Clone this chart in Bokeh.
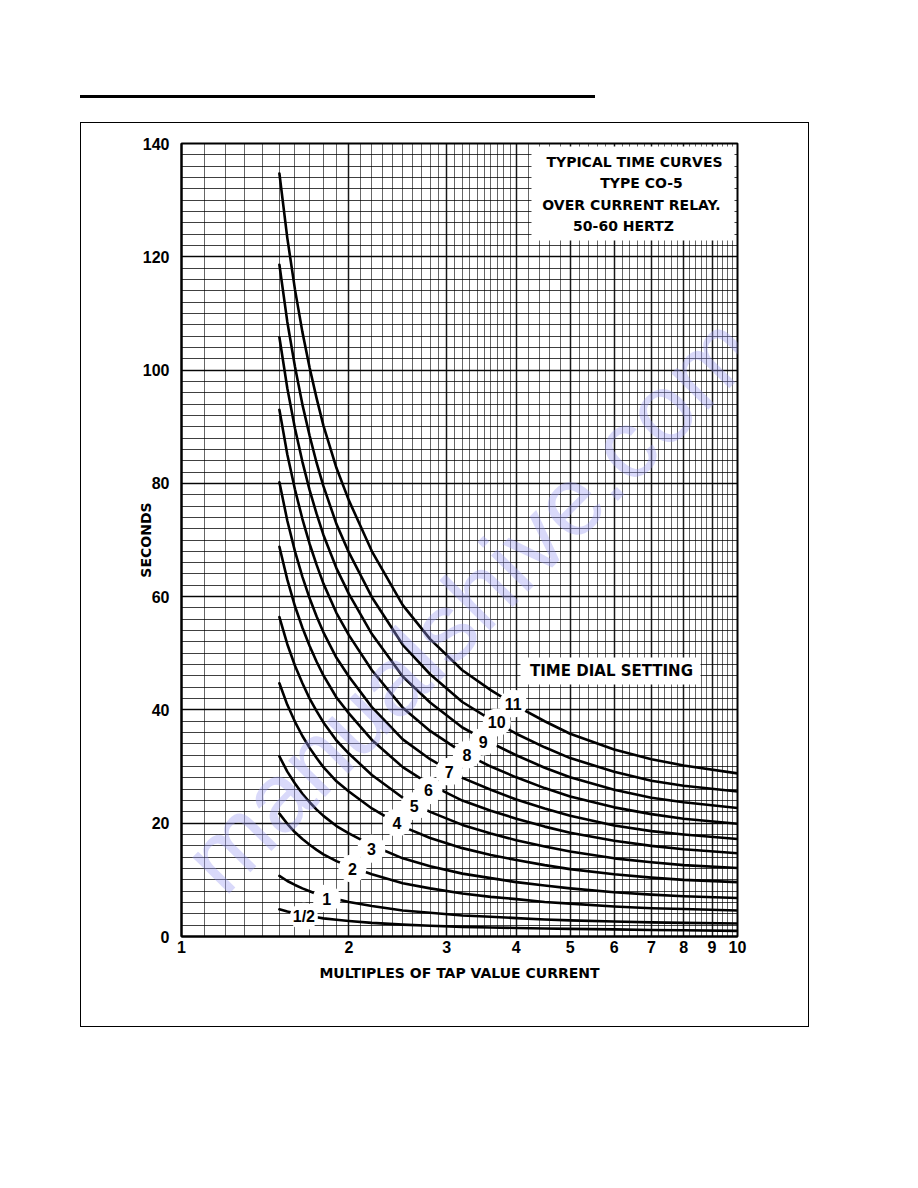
from bokeh.plotting import figure
from bokeh.models import FixedTicker, PrintfTickFormatter, BoxAnnotation, Label, InlineStyleSheet
from bokeh.core.properties import value
from bokeh.embed import file_html
from bokeh.resources import INLINE
import numpy as np

# ---------------- data ----------------
multiples = [1.5, 1.55, 1.6, 1.65, 1.7, 1.75, 1.8, 1.9, 2.0, 2.2, 2.5, 2.8, 3.2, 3.6, 4.0, 4.5,
             5.0, 6.0, 7.0, 8.0, 10.0]

dial_half = [4.8, 4.4, 4.1, 3.8, 3.6, 3.4, 3.2, 2.95, 2.75, 2.4, 2.1, 1.9, 1.7, 1.6, 1.5, 1.4,
             1.35, 1.25, 1.15, 1.1, 1.0]
dial_1 = [10.7, 9.8, 9.1, 8.5, 8.0, 7.5, 7.2, 6.6, 6.1, 5.4, 4.6, 4.2, 3.7, 3.5, 3.25, 3.0,
          2.85, 2.65, 2.5, 2.4, 2.3]
dial_2 = [21.7, 19.9, 18.4, 17.2, 16.2, 15.3, 14.5, 13.3, 12.4, 11.0, 9.4, 8.5, 7.6, 7.0, 6.6, 6.1,
          5.8, 5.3, 5.0, 4.85, 4.6]
dial_3 = [31.8, 29.1, 27.0, 25.2, 23.7, 22.4, 21.3, 19.5, 18.2, 16.1, 13.8, 12.4, 11.1, 10.3, 9.6, 9.0,
          8.5, 7.8, 7.4, 7.1, 6.8]
dial_4 = [44.7, 40.9, 37.9, 35.4, 33.3, 31.5, 29.9, 27.4, 25.6, 22.6, 19.4, 17.4, 15.6, 14.4, 13.5, 12.6,
          11.9, 11.0, 10.4, 10.0, 9.6]
dial_5 = [56.4, 51.6, 47.8, 44.7, 42.0, 39.8, 37.8, 34.6, 32.3, 28.5, 24.5, 22.0, 19.7, 18.2, 17.0, 15.9,
          15.0, 13.8, 13.1, 12.6, 12.1]
dial_6 = [68.8, 63.0, 58.3, 54.5, 51.3, 48.5, 46.1, 42.2, 39.4, 34.7, 29.9, 26.8, 24.0, 22.2, 20.8, 19.4,
          18.3, 16.9, 16.0, 15.4, 14.7]
dial_7 = [80.2, 73.4, 68.0, 63.5, 59.7, 56.5, 53.7, 49.2, 45.9, 40.5, 34.8, 31.3, 28.0, 25.9, 24.2, 22.6,
          21.3, 19.6, 18.6, 18.0, 17.2]
dial_8 = [93.0, 85.1, 78.9, 73.7, 69.3, 65.6, 62.3, 57.1, 53.2, 47.0, 40.4, 36.3, 32.5, 30.0, 28.1, 26.2,
          24.7, 22.8, 21.6, 20.8, 19.9]
dial_9 = [105.8, 96.8, 89.7, 83.8, 78.8, 74.6, 70.9, 65.0, 60.5, 53.4, 45.9, 41.3, 36.9, 34.2, 32.0, 29.8,
          28.1, 25.9, 24.5, 23.7, 22.7]
dial_10 = [118.6, 108.5, 100.6, 93.9, 88.4, 83.6, 79.5, 72.8, 67.8, 59.9, 51.5, 46.3, 41.4, 38.3, 35.8, 33.4,
           31.5, 29.1, 27.5, 26.6, 25.6]
dial_11 = [134.7, 123.3, 114.2, 106.7, 100.4, 95.0, 90.2, 82.7, 77.0, 68.0, 58.5, 52.5, 47.0, 43.5, 40.7, 38.0,
           35.8, 33.0, 31.3, 30.2, 28.8]

dial_names = ["1/2", "1", "2", "3", "4", "5", "6", "7", "8", "9", "10", "11"]
dial_curves = [dial_half, dial_1, dial_2, dial_3, dial_4, dial_5,
               dial_6, dial_7, dial_8, dial_9, dial_10, dial_11]
# where each dial number sits on its curve
label_x = [1.66, 1.824, 2.03, 2.196, 2.44, 2.62, 2.78, 3.03, 3.26, 3.49, 3.69, 3.95]
label_y = [3.5, 6.7, 12.0, 15.5, 20.1, 23.0, 25.8, 29.1, 32.1, 34.4, 37.8, 41.1]

x_ticks = [1, 2, 3, 4, 5, 6, 7, 8, 9, 10]
y_ticks = [0, 20, 40, 60, 80, 100, 120, 140]

# ---------------- figure ----------------
FONT = "DejaVu Sans"
NUMF = "Liberation Sans"

p = figure(width=910, height=1040, x_axis_type="log", x_range=(1, 10), y_range=(0, 140),
           output_backend="svg", toolbar_location=None,
           min_border_left=181, min_border_right=173, min_border_top=143, min_border_bottom=104)
p.background_fill_color = "white"
p.border_fill_color = "white"
p.outline_line_color = "black"
p.outline_line_width = 2


# pixel -> data helpers for annotation placement (frame: x 181..737, y 143..936 in page px)
def px_x(px):
    return 10 ** ((px - 181) / 556.0)


def px_y(py):
    return (936 - py) * 140.0 / 793.0


# grids (chart paper: 0.1 steps up to 4, 0.2 steps above)
minor_x = ([round(v, 1) for v in np.arange(1.1, 4.0, 0.1) if abs(v - round(v)) > 1e-6] +
           [round(v, 1) for v in np.arange(4.2, 10.0, 0.2) if abs(v - round(v)) > 1e-6])
p.xgrid.ticker = FixedTicker(ticks=x_ticks, minor_ticks=minor_x)
p.xgrid.grid_line_color = "black"
p.xgrid.grid_line_width = 1.5
p.xgrid.grid_line_alpha = 0.9
p.xgrid.minor_grid_line_color = "black"
p.xgrid.minor_grid_line_alpha = 0.6
p.xgrid.minor_grid_line_width = 1

p.ygrid.ticker = FixedTicker(ticks=y_ticks, minor_ticks=list(range(0, 141, 2)))
p.ygrid.grid_line_color = "black"
p.ygrid.grid_line_width = 1.5
p.ygrid.grid_line_alpha = 0.9
p.ygrid.minor_grid_line_color = "black"
p.ygrid.minor_grid_line_alpha = 0.75
p.ygrid.minor_grid_line_width = 1

# axes
p.xaxis.ticker = FixedTicker(ticks=x_ticks)
p.xaxis.formatter = PrintfTickFormatter(format="%d")
p.yaxis.ticker = FixedTicker(ticks=y_ticks)
for ax in (p.xaxis, p.yaxis):
    ax.major_tick_line_color = None
    ax.minor_tick_line_color = None
    ax.axis_line_color = "black"
    ax.axis_line_width = 2
    ax.major_label_text_font = NUMF
    ax.major_label_text_font_style = "bold"
    ax.major_label_text_font_size = "16px"
    ax.major_label_text_color = "black"
    ax.axis_label_text_font = FONT
    ax.axis_label_text_font_style = "bold"
    ax.axis_label_text_color = "black"
p.xaxis.major_label_standoff = -2
p.yaxis.major_label_standoff = 6
p.xaxis.axis_label = "MULTIPLES OF TAP VALUE CURRENT"
p.xaxis.axis_label_text_font_size = "14px"
p.xaxis.axis_label_standoff = 9
p.yaxis.axis_label = "SECONDS"
p.yaxis.axis_label_text_font_size = "14px"
p.yaxis.axis_label_standoff = -14

# curves
for ys in dial_curves:
    p.line(multiples, ys, line_width=2.6, color="black", line_join="round", line_cap="round")

# white blobs + dial numbers
p.scatter(label_x, label_y, marker="circle", size=28, fill_color="white", line_color=None)
p.text(label_x, label_y, text=dial_names, text_align="center", text_baseline="middle",
       text_font=value(NUMF), text_font_style="bold", text_font_size="16px", text_color="black")

# title box
p.add_layout(BoxAnnotation(left=px_x(531), right=px_x(734), top=px_y(146), bottom=px_y(240),
                           fill_color="white", fill_alpha=1.0, line_color=None))
title_lines = ["TYPICAL TIME CURVES", "TYPE CO-5", "OVER CURRENT RELAY.", "50-60 HERTZ"]
title_cx = [634, 641, 631, 623]
title_cy = [161, 182, 204, 225]
for t, cx, cy in zip(title_lines, title_cx, title_cy):
    p.add_layout(Label(x=px_x(cx), y=px_y(cy), text=t, text_align="center", text_baseline="middle",
                       text_font=FONT, text_font_style="bold", text_font_size="14px",
                       text_color="black"))

# time dial setting box
p.add_layout(BoxAnnotation(left=px_x(520), right=px_x(700), top=px_y(657), bottom=px_y(684),
                           fill_color="white", fill_alpha=1.0, line_color=None))
p.add_layout(Label(x=px_x(611), y=px_y(670), text="TIME DIAL SETTING", text_align="center",
                   text_baseline="middle", text_font=FONT, text_font_style="bold",
                   text_font_size="15px", text_color="black"))

# watermark
p.add_layout(Label(x=px_x(468), y=px_y(603), text="manualshive.com", angle=45.3, angle_units="deg",
                   text_align="center", text_baseline="middle", text_font="Liberation Sans",
                   text_font_size="98px", text_color="#9a9af2", text_alpha=0.38))

# page decorations outside the plot frame: outer box and top rule
p.stylesheets = [InlineStyleSheet(css="""
:host::before { content: ""; position: absolute; left: 80px; top: 122px; width: 727px; height: 903px;
  border: 1px solid black; z-index: 10; pointer-events: none; box-sizing: content-box; }
:host::after { content: ""; position: absolute; left: 80px; top: 95px; width: 515px; height: 3px;
  background: black; z-index: 10; pointer-events: none; }
""")]

open("out.html", "w").write(file_html(p, INLINE))
